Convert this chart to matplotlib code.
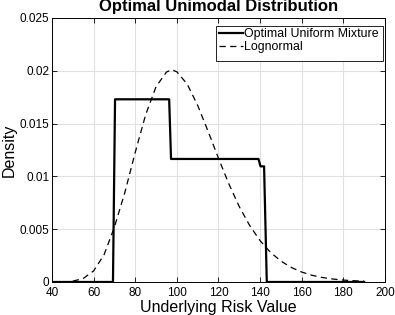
import matplotlib
matplotlib.use("Agg")
import matplotlib.pyplot as plt
from matplotlib.patches import Rectangle

plt.rcParams['font.family'] = ['Liberation Sans', 'DejaVu Sans']

# optimal uniform mixture (step density)
mix_x = [40, 69.3, 70.3, 96.3, 97.2, 139.2, 140.2, 141.9, 143.2, 190]
mix_y = [0, 0, 0.0173, 0.0173, 0.01165, 0.01165, 0.01095, 0.01095, 0, 0]

# lognormal density
logn_x = [50, 55, 60, 65, 70, 75, 80, 85, 90, 95, 97.5, 100, 105, 110, 115,
          120, 125, 130, 135, 140, 145, 150, 155, 160, 165, 170, 175, 180,
          185, 190]
logn_y = [0.00008, 0.00033, 0.00105, 0.00257, 0.0052, 0.00847, 0.01228,
          0.01584, 0.0185, 0.01988, 0.0201, 0.0199, 0.01873, 0.01672,
          0.01427, 0.01171, 0.00928, 0.00713, 0.00534, 0.00391, 0.0028,
          0.00198, 0.00137, 0.00094, 0.00063, 0.00042, 0.00028, 0.00018,
          0.00012, 0.00008]

fig = plt.figure(figsize=(3.95, 3.15), dpi=100)
ax = fig.add_axes([0.1316, 0.1048, 0.8431, 0.8381])

ax.plot(mix_x, mix_y, color='black', lw=1.6, label='Optimal Uniform Mixture')
ax.plot(logn_x, logn_y, color='black', lw=0.9, ls=(0, (5, 3.5)), label='Lognormal')

ax.set_xlim(40, 200)
ax.set_ylim(0, 0.025)
ax.set_xticks(range(40, 201, 20))
ax.set_yticks([0, 0.005, 0.01, 0.015, 0.02, 0.025])
ax.set_yticklabels(['0', '0.005', '0.01', '0.015', '0.02', '0.025'])
ax.grid(True, color='#e0e0e0', lw=0.8)
ax.set_axisbelow(True)
ax.tick_params(direction='in', top=True, right=True, length=3.5, width=0.6,
               labelsize=8.5, pad=2)
ax.tick_params(axis='x', pad=3.8)
for s in ax.spines.values():
    s.set_linewidth(0.7)

ax.set_xlabel('Underlying Risk Value', fontsize=11.5, labelpad=0.3)
ax.set_ylabel('Density', fontsize=11.5, labelpad=2)
ax.set_title('Optimal Unimodal Distribution', fontsize=12, fontweight='bold', pad=5)

# legend box (matlab style: extra room under the entries)
ax.add_patch(Rectangle((0.4925, 0.837), 0.5015, 0.133, transform=ax.transAxes,
                       facecolor='white', edgecolor='black', lw=0.6, zorder=4))
leg = ax.legend(loc='upper left', bbox_to_anchor=(0.5005, 0.962), borderaxespad=0,
                fontsize=8.9, handlelength=2.0, handletextpad=0.05,
                borderpad=0, labelspacing=0.08, frameon=False)
leg.set_zorder(5)

fig.savefig('out.png', dpi=100)
